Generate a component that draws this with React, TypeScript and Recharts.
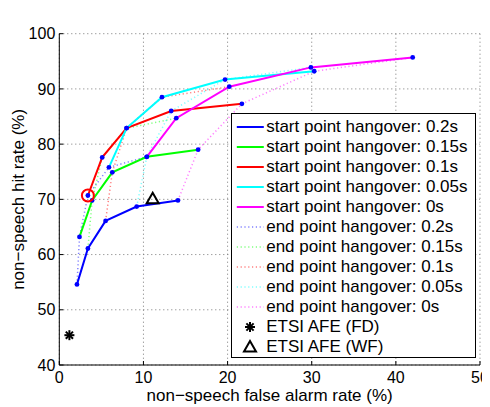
import React from 'react';
import { ScatterChart, Scatter, XAxis, YAxis, CartesianGrid, Legend, Label } from 'recharts';

const FONT = '"Liberation Sans", Arial, Helvetica, sans-serif';

const xTicks = [0, 10, 20, 30, 40, 50];
const yTicks = [40, 50, 60, 70, 80, 90, 100];

// start point hangover curves, one point per end point hangover (0.2s, 0.15s, 0.1s, 0.05s, 0s)
const start02X = [2.1, 3.4, 5.5, 9.2, 14.1];
const start02Y = [54.6, 61.1, 66.1, 68.7, 69.8];
const start015X = [2.4, 3.9, 6.3, 10.4, 16.5];
const start015Y = [63.2, 69.8, 74.9, 77.7, 79.0];
const start01X = [3.4, 5.1, 8.0, 13.3, 21.7];
const start01Y = [70.7, 77.6, 82.9, 86.0, 87.3];
const start005X = [5.9, 8.0, 12.2, 19.7, 30.3];
const start005Y = [75.8, 82.9, 88.5, 91.7, 93.2];
const start0X = [10.4, 13.9, 20.2, 29.9, 42.0];
const start0Y = [77.7, 84.7, 90.4, 93.9, 95.7];

// reference systems
const etsiFdX = [1.2];
const etsiFdY = [45.4];
const etsiWfX = [11.1];
const etsiWfY = [70.1];

const hangovers = ['0.2s', '0.15s', '0.1s', '0.05s', '0s'];
const colors = ['#0000ff', '#00ff00', '#ff0000', '#00ffff', '#ff00ff'];

const toPoints = (xs: number[], ys: number[]) => xs.map((x, i) => ({ x, y: ys[i] }));

const startSeries = [
  toPoints(start02X, start02Y),
  toPoints(start015X, start015Y),
  toPoints(start01X, start01Y),
  toPoints(start005X, start005Y),
  toPoints(start0X, start0Y),
];
// end point hangover curves join the j-th point of every start curve
const endSeries = hangovers.map((_, j) => startSeries.map((s) => s[j]));
const allPoints = startSeries.flat();
const etsiFd = toPoints(etsiFdX, etsiFdY);
const etsiWf = toPoints(etsiWfX, etsiWfY);
const marked = [startSeries[2][0]];

const DOT = '1.2 2.6';

const noShape = () => <g />;
const blueDot = (p: any) => <circle cx={p.cx} cy={p.cy} r={2.4} fill="#0000ff" />;
const asterisk = (p: any) => {
  const r = 5;
  const d = r * 0.72;
  return (
    <g stroke="#000" strokeWidth={2}>
      <line x1={p.cx - r} y1={p.cy} x2={p.cx + r} y2={p.cy} />
      <line x1={p.cx} y1={p.cy - r} x2={p.cx} y2={p.cy + r} />
      <line x1={p.cx - d} y1={p.cy - d} x2={p.cx + d} y2={p.cy + d} />
      <line x1={p.cx - d} y1={p.cy + d} x2={p.cx + d} y2={p.cy - d} />
    </g>
  );
};
const triangle = (p: any) => (
  <polygon
    points={`${p.cx - 6},${p.cy + 4.5} ${p.cx + 6},${p.cy + 4.5} ${p.cx},${p.cy - 6}`}
    fill="none"
    stroke="#000"
    strokeWidth={2}
  />
);
const ring = (p: any) => <circle cx={p.cx} cy={p.cy} r={6} fill="none" stroke="#ff0000" strokeWidth={2} />;

function LegendBox() {
  const rows: React.ReactNode[] = [];
  hangovers.forEach((h, i) =>
    rows.push(
      <Row key={'s' + i} text={`start point hangover: ${h}`}>
        <line x1={4.8} x2={31.8} y1={10} y2={10} stroke={colors[i]} strokeWidth={2} />
      </Row>
    )
  );
  hangovers.forEach((h, i) =>
    rows.push(
      <Row key={'e' + i} text={`end point hangover: ${h}`}>
        <line x1={4.8} x2={31.8} y1={10} y2={10} stroke={colors[i]} strokeOpacity={0.5} strokeWidth={1.5} strokeDasharray={DOT} />
      </Row>
    )
  );
  rows.push(
    <Row key="fd" text="ETSI AFE (FD)">
      {asterisk({ cx: 18, cy: 10 })}
    </Row>
  );
  rows.push(
    <Row key="wf" text="ETSI AFE (WF)">
      {triangle({ cx: 18, cy: 10 })}
    </Row>
  );
  return (
    <div
      style={{
        width: 245,
        height: 245,
        boxSizing: 'border-box',
        border: '1.5px solid #000',
        background: '#fff',
        paddingTop: 3,
        fontFamily: FONT,
        fontSize: 17,
        color: '#000',
      }}
    >
      {rows}
    </div>
  );
}

function Row({ text, children }: { text: string; children: React.ReactNode }) {
  return (
    <div style={{ display: 'flex', alignItems: 'center', height: 20, lineHeight: '20px', whiteSpace: 'nowrap' }}>
      <svg width={34.5} height={20} style={{ flex: 'none' }}>
        {children}
      </svg>
      <span>{text}</span>
    </div>
  );
}

export default function App() {
  const tickStyle = { fill: '#000', fontSize: 16, fontFamily: FONT };
  return (
    <div style={{ position: 'relative', width: 482, height: 399, fontFamily: FONT }}>
      <ScatterChart width={482} height={399} margin={{ top: 25.7, right: 10, bottom: 0, left: 0 }}>
        <CartesianGrid stroke="#777" strokeDasharray="1 3" />
        <XAxis
          type="number"
          dataKey="x"
          domain={[0, 50]}
          ticks={xTicks}
          interval={0}
          height={42}
          tickSize={-4}
          tickMargin={11}
          tick={tickStyle}
          axisLine={{ stroke: '#000' }}
          tickLine={{ stroke: '#000' }}
        >
          <Label
            value="non−speech false alarm rate (%)"
            position="insideBottom"
            offset={6}
            style={{ fill: '#000', fontSize: 17, fontFamily: FONT }}
          />
        </XAxis>
        <XAxis
          xAxisId="top"
          orientation="top"
          type="number"
          dataKey="x"
          domain={[0, 50]}
          ticks={xTicks}
          interval={0}
          height={0}
          tickSize={-4}
          tick={false}
          axisLine={{ stroke: '#000' }}
          tickLine={{ stroke: '#000' }}
        >
          <Label value="ROC curves" position="top" offset={12} style={{ fill: '#000', fontSize: 17, fontFamily: FONT }} />
        </XAxis>
        <YAxis
          type="number"
          dataKey="y"
          domain={[40, 100]}
          ticks={yTicks}
          interval={0}
          width={51.3}
          tickSize={-4}
          tickMargin={8}
          tick={tickStyle}
          axisLine={{ stroke: '#000' }}
          tickLine={{ stroke: '#000' }}
        >
          <Label
            value="non−speech hit rate (%)"
            angle={-90}
            position="insideLeft"
            offset={10}
            style={{ fill: '#000', fontSize: 17, fontFamily: FONT, textAnchor: 'middle' }}
          />
        </YAxis>
        <YAxis
          yAxisId="right"
          orientation="right"
          type="number"
          dataKey="y"
          domain={[40, 100]}
          ticks={yTicks}
          interval={0}
          width={0}
          tickSize={-4}
          tick={false}
          axisLine={{ stroke: '#000' }}
          tickLine={{ stroke: '#000' }}
        />
        {endSeries.map((pts, i) => (
          <Scatter
            key={'end' + i}
            data={pts}
            fill={colors[i]}
            line={{ stroke: colors[i], strokeWidth: 1.5, strokeOpacity: 0.5, strokeDasharray: DOT }}
            lineJointType="linear"
            shape={noShape}
            isAnimationActive={false}
          />
        ))}
        {startSeries.map((pts, i) => (
          <Scatter
            key={'start' + i}
            data={pts}
            fill={colors[i]}
            line={{ stroke: colors[i], strokeWidth: 2 }}
            lineJointType="linear"
            shape={noShape}
            isAnimationActive={false}
          />
        ))}
        <Scatter data={allPoints} fill="#0000ff" shape={blueDot} isAnimationActive={false} />
        <Scatter data={marked} fill="#ff0000" shape={ring} isAnimationActive={false} />
        <Scatter data={etsiFd} fill="#000" shape={asterisk} isAnimationActive={false} />
        <Scatter data={etsiWf} fill="#000" shape={triangle} isAnimationActive={false} />
        <Legend
          layout="vertical"
          align="center"
          verticalAlign="middle"
          content={() => <LegendBox />}
          wrapperStyle={{ left: 222.7, top: 104.7, width: 245, height: 245, margin: 0 }}
        />
      </ScatterChart>
    </div>
  );
}
